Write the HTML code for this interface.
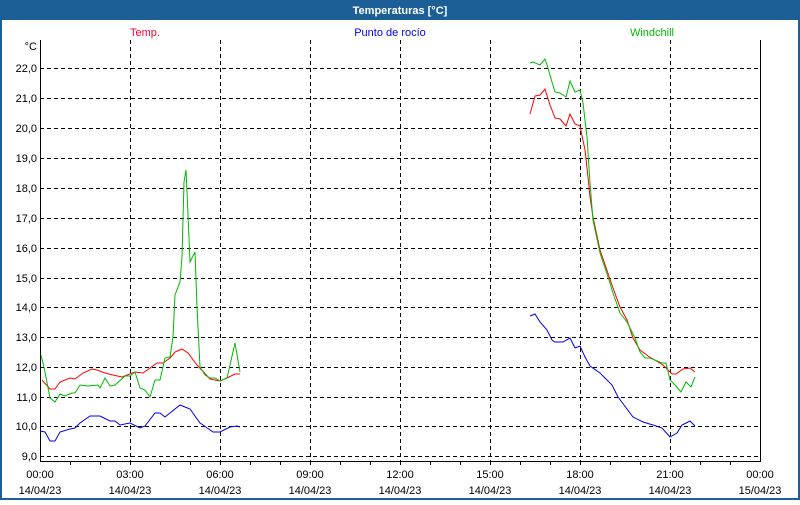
<!DOCTYPE html>
<html><head><meta charset="utf-8"><style>
body{margin:0;width:800px;height:500px;overflow:hidden;background:#fff;font-family:"Liberation Sans",sans-serif}
</style></head><body>
<svg width="800" height="500" xmlns="http://www.w3.org/2000/svg" font-family="Liberation Sans, sans-serif" font-size="11">
<rect x="0" y="0" width="800" height="500" fill="#1c5f96"/>
<rect x="2" y="20" width="796" height="478" fill="#fff"/>
<text x="400" y="14" fill="#fff" font-weight="bold" text-anchor="middle">Temperaturas [°C]</text>
<text x="145" y="36" fill="#ff0033" text-anchor="middle">Temp.</text>
<text x="390" y="36" fill="#0000ee" text-anchor="middle">Punto de rocío</text>
<text x="652" y="36" fill="#00bb00" text-anchor="middle">Windchill</text>
<g stroke="#000" stroke-dasharray="4,3" stroke-width="1">
<line x1="40" y1="68.5" x2="760" y2="68.5"/><line x1="40" y1="98.5" x2="760" y2="98.5"/><line x1="40" y1="128.5" x2="760" y2="128.5"/><line x1="40" y1="158.5" x2="760" y2="158.5"/><line x1="40" y1="188.5" x2="760" y2="188.5"/><line x1="40" y1="218.5" x2="760" y2="218.5"/><line x1="40" y1="248.5" x2="760" y2="248.5"/><line x1="40" y1="278.5" x2="760" y2="278.5"/><line x1="40" y1="307.5" x2="760" y2="307.5"/><line x1="40" y1="337.5" x2="760" y2="337.5"/><line x1="40" y1="367.5" x2="760" y2="367.5"/><line x1="40" y1="397.5" x2="760" y2="397.5"/><line x1="40" y1="426.5" x2="760" y2="426.5"/><line x1="40" y1="456.5" x2="760" y2="456.5"/>
<line x1="130.5" y1="40" x2="130.5" y2="461"/><line x1="220.5" y1="40" x2="220.5" y2="461"/><line x1="310.5" y1="40" x2="310.5" y2="461"/><line x1="400.5" y1="40" x2="400.5" y2="461"/><line x1="490.5" y1="40" x2="490.5" y2="461"/><line x1="580.5" y1="40" x2="580.5" y2="461"/><line x1="670.5" y1="40" x2="670.5" y2="461"/>
</g>
<path d="M40.5 40V461.5H760.5V40" fill="none" stroke="#000" stroke-width="1"/>
<g stroke="#000"><line x1="70.5" y1="461" x2="70.5" y2="465"/><line x1="100.5" y1="461" x2="100.5" y2="465"/><line x1="130.5" y1="461" x2="130.5" y2="465"/><line x1="160.5" y1="461" x2="160.5" y2="465"/><line x1="190.5" y1="461" x2="190.5" y2="465"/><line x1="220.5" y1="461" x2="220.5" y2="465"/><line x1="250.5" y1="461" x2="250.5" y2="465"/><line x1="280.5" y1="461" x2="280.5" y2="465"/><line x1="310.5" y1="461" x2="310.5" y2="465"/><line x1="340.5" y1="461" x2="340.5" y2="465"/><line x1="370.5" y1="461" x2="370.5" y2="465"/><line x1="400.5" y1="461" x2="400.5" y2="465"/><line x1="430.5" y1="461" x2="430.5" y2="465"/><line x1="460.5" y1="461" x2="460.5" y2="465"/><line x1="490.5" y1="461" x2="490.5" y2="465"/><line x1="520.5" y1="461" x2="520.5" y2="465"/><line x1="550.5" y1="461" x2="550.5" y2="465"/><line x1="580.5" y1="461" x2="580.5" y2="465"/><line x1="610.5" y1="461" x2="610.5" y2="465"/><line x1="640.5" y1="461" x2="640.5" y2="465"/><line x1="670.5" y1="461" x2="670.5" y2="465"/><line x1="700.5" y1="461" x2="700.5" y2="465"/><line x1="730.5" y1="461" x2="730.5" y2="465"/></g>
<g text-anchor="end" fill="#000">
<text x="37" y="50">°C</text>
<text x="37" y="72">22,0</text><text x="37" y="102">21,0</text><text x="37" y="132">20,0</text><text x="37" y="162">19,0</text><text x="37" y="192">18,0</text><text x="37" y="222">17,0</text><text x="37" y="252">16,0</text><text x="37" y="282">15,0</text><text x="37" y="311">14,0</text><text x="37" y="341">13,0</text><text x="37" y="371">12,0</text><text x="37" y="401">11,0</text><text x="37" y="430">10,0</text><text x="37" y="460">9,0</text>
</g>
<g text-anchor="middle" fill="#000">
<text x="40" y="478">00:00</text><text x="40" y="494">14/04/23</text>
<text x="130" y="478">03:00</text><text x="130" y="494">14/04/23</text>
<text x="220" y="478">06:00</text><text x="220" y="494">14/04/23</text>
<text x="310" y="478">09:00</text><text x="310" y="494">14/04/23</text>
<text x="400" y="478">12:00</text><text x="400" y="494">14/04/23</text>
<text x="490" y="478">15:00</text><text x="490" y="494">14/04/23</text>
<text x="580" y="478">18:00</text><text x="580" y="494">14/04/23</text>
<text x="670" y="478">21:00</text><text x="670" y="494">14/04/23</text>
<text x="760" y="478">00:00</text><text x="760" y="494">15/04/23</text>
</g>
<g fill="none" stroke-width="1">
<polyline stroke="#0000ee" points="40,431 45,432 50,441 55,441 60,432 70,429 75,428 80,423 90,416 100,416 110,421 115,421 120,425 130,423 140,428 145,426 155,413 160,413 165,417 180,405 190,409 200,423 203,425 213,432 220,432 230,427 237,426 240,427"/>
<polyline stroke="#0000ee" points="530,316 535,314 540,322 547,330 552,340 555,342 563,342 570,338 575,348 580,346 585,357 590,366 600,373 612,385 618,397 633,417 643,422 653,425 662,428 670,437 677,433 682,425 690,421 695,426"/>
<polyline stroke="#ff0000" points="42,380 50,389 55,389 60,382 70,378 75,379 83,373 92,369 97,370 105,373 113,375 122,377 135,372 143,373 150,368 157,363 163,363 170,358 175,352 182,349 188,353 197,365 210,379 220,381 227,378 235,374 240,374"/>
<polyline stroke="#ff0000" points="530,114 535,96 540,95 545,89 550,105 555,118 560,119 566,126 570,114 575,124 580,126 585,150 588,177 590,197 593,217 600,250 613,288 620,307 627,320 633,338 640,350 648,356 663,365 672,374 676,374 683,369 690,368 695,372"/>
<polyline stroke="#00bb00" points="41,355 44,367 50,398 55,402 60,394 65,396 72,393 75,393 80,385 88,386 98,385 100,388 105,378 110,386 115,385 125,376 130,376 135,372 140,388 145,390 150,397 155,380 160,380 165,358 170,357 173,337 175,295 180,282 182,257 184,182 186,170 187,192 190,262 195,252 197,307 200,367 205,375 210,378 215,378 220,381 227,378 235,343 240,372"/>
<polyline stroke="#00bb00" points="530,63 533,62 540,65 545,59 548,68 552,82 555,92 560,93 566,97 570,81 575,92 580,90 583,103 587,137 590,183 593,220 600,253 610,283 612,290 620,313 627,322 635,338 640,352 645,358 650,358 662,363 666,363 670,380 675,385 681,392 686,382 691,387 695,377"/>
</g>
</svg>
</body></html>
